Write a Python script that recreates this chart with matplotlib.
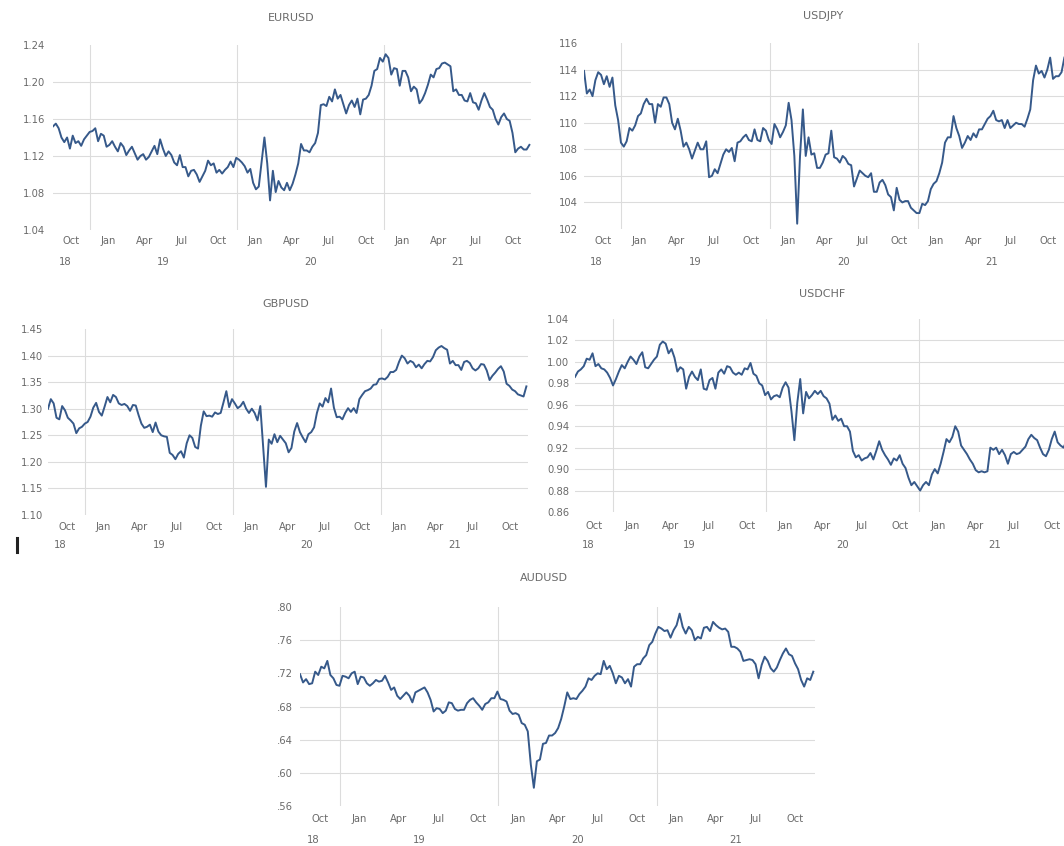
import matplotlib
matplotlib.use('Agg')
import matplotlib.pyplot as plt
import matplotlib.dates as mdates
import pandas as pd
from matplotlib.lines import Line2D

W, H = 1064, 846

# weekly observations (Mondays), Oct 2018 - Dec 2021
dates = pd.date_range('2018-10-01', '2021-12-27', freq='W-MON')

eurusd = [
    1.152, 1.155, 1.150, 1.140, 1.135, 1.140, 1.128, 1.142, 1.134, 1.136, 1.131, 1.138, 1.142, 1.146,
    1.147, 1.150, 1.136, 1.144, 1.142, 1.130, 1.132, 1.136, 1.130, 1.125, 1.134, 1.130,
    1.121, 1.126, 1.130, 1.123, 1.116, 1.120, 1.122, 1.116, 1.119, 1.125, 1.131, 1.122, 1.138,
    1.128, 1.120, 1.125, 1.121, 1.113, 1.110, 1.121, 1.108, 1.108, 1.098, 1.104, 1.105, 1.100, 1.092,
    1.098, 1.104, 1.115, 1.110, 1.112, 1.102, 1.105, 1.101, 1.105, 1.108, 1.114, 1.108, 1.118,
    1.116, 1.113, 1.109, 1.102, 1.106, 1.091, 1.084, 1.087, 1.113, 1.140, 1.112, 1.072, 1.104,
    1.081, 1.093, 1.086, 1.083, 1.091, 1.083, 1.090, 1.100, 1.112, 1.133, 1.126, 1.126, 1.124,
    1.130, 1.134, 1.145, 1.175, 1.176, 1.174, 1.184, 1.179, 1.192, 1.182, 1.186, 1.176, 1.166,
    1.175, 1.180, 1.173, 1.182, 1.165, 1.181, 1.182, 1.186, 1.196, 1.212, 1.214, 1.226, 1.222,
    1.230, 1.226, 1.208, 1.215, 1.214, 1.196, 1.212, 1.212, 1.205, 1.190, 1.195, 1.192, 1.177,
    1.181, 1.188, 1.197, 1.208, 1.205, 1.214, 1.215, 1.220, 1.221, 1.219, 1.217, 1.190, 1.192,
    1.186, 1.186, 1.180, 1.179, 1.188, 1.178, 1.177, 1.170, 1.180, 1.188, 1.181, 1.173, 1.170,
    1.160, 1.154, 1.162, 1.166, 1.160, 1.158, 1.145, 1.124, 1.128, 1.130, 1.127, 1.127, 1.132,
]

usdjpy = [
    113.9, 112.2, 112.5, 112.0, 113.2, 113.8, 113.6, 112.9, 113.5, 112.7, 113.4, 111.3, 110.2, 108.5,
    108.2, 108.6, 109.6, 109.4, 109.8, 110.5, 110.7, 111.4, 111.8, 111.4, 111.4, 110.0,
    111.4, 111.2, 111.9, 111.9, 111.4, 110.0, 109.5, 110.3, 109.4, 108.2, 108.5, 108.0, 107.3,
    107.9, 108.5, 108.0, 108.0, 108.6, 105.9, 106.0, 106.5, 106.2, 106.9, 107.6, 108.0, 107.8, 108.1,
    107.1, 108.5, 108.6, 108.9, 109.1, 108.7, 108.6, 109.5, 108.7, 108.6, 109.6, 109.4, 108.7,
    108.4, 109.9, 109.5, 108.9, 109.3, 109.8, 111.5, 110.2, 107.5, 102.4, 107.5, 111.0, 107.5,
    108.9, 107.6, 107.7, 106.6, 106.6, 107.0, 107.6, 107.7, 109.4, 107.4, 107.3, 107.0, 107.5,
    107.3, 106.9, 106.8, 105.2, 105.8, 106.4, 106.2, 106.0, 105.9, 106.2, 104.8, 104.8, 105.5,
    105.7, 105.3, 104.6, 104.4, 103.4, 105.1, 104.2, 104.0, 104.1, 104.1, 103.6, 103.4, 103.2,
    103.2, 103.9, 103.8, 104.1, 105.0, 105.4, 105.6, 106.2, 107.0, 108.5, 108.9, 108.9, 110.5,
    109.6, 109.0, 108.1, 108.5, 109.0, 108.7, 109.2, 108.9, 109.5, 109.5, 109.9, 110.3, 110.5,
    110.9, 110.2, 110.1, 110.2, 109.6, 110.2, 109.6, 109.8, 110.0, 109.9, 109.9, 109.7, 110.3,
    111.0, 113.2, 114.3, 113.7, 113.9, 113.4, 114.0, 114.9, 113.3, 113.5, 113.5, 113.8, 114.9,
]

gbpusd = [
    1.300, 1.318, 1.310, 1.283, 1.280, 1.305, 1.297, 1.283, 1.278, 1.272, 1.254, 1.263, 1.266, 1.272,
    1.275, 1.285, 1.302, 1.311, 1.294, 1.287, 1.304, 1.322, 1.312, 1.326, 1.322, 1.310,
    1.307, 1.309, 1.305, 1.296, 1.307, 1.306, 1.288, 1.272, 1.264, 1.266, 1.270, 1.256, 1.274,
    1.257, 1.250, 1.248, 1.247, 1.217, 1.213, 1.205, 1.215, 1.220, 1.208, 1.235, 1.250, 1.245, 1.228,
    1.225, 1.268, 1.295, 1.286, 1.287, 1.285, 1.293, 1.290, 1.292, 1.312, 1.333, 1.303, 1.318,
    1.310, 1.301, 1.305, 1.313, 1.300, 1.292, 1.300, 1.292, 1.278, 1.305, 1.228, 1.153, 1.242,
    1.234, 1.252, 1.237, 1.249, 1.242, 1.235, 1.218, 1.226, 1.257, 1.273, 1.256, 1.246, 1.237,
    1.252, 1.256, 1.265, 1.292, 1.310, 1.304, 1.320, 1.312, 1.338, 1.302, 1.284, 1.285, 1.280,
    1.292, 1.301, 1.294, 1.301, 1.292, 1.318, 1.326, 1.333, 1.335, 1.338, 1.345, 1.346, 1.356,
    1.357, 1.355, 1.360, 1.369, 1.369, 1.373, 1.388, 1.400, 1.395, 1.385, 1.390, 1.387, 1.378,
    1.383, 1.376, 1.384, 1.390, 1.389, 1.397, 1.410, 1.415, 1.418, 1.414, 1.411, 1.385, 1.390,
    1.382, 1.382, 1.373, 1.388, 1.390, 1.386, 1.376, 1.372, 1.376, 1.384, 1.383, 1.372, 1.354,
    1.362, 1.368, 1.375, 1.380, 1.370, 1.347, 1.343, 1.336, 1.333, 1.327, 1.325, 1.323, 1.342,
]

usdchf = [
    0.986, 0.991, 0.993, 0.996, 1.003, 1.002, 1.008, 0.996, 0.998, 0.994, 0.993, 0.990, 0.985, 0.978,
    0.984, 0.991, 0.997, 0.994, 1.000, 1.005, 1.002, 0.998, 1.005, 1.009, 0.995, 0.994,
    0.998, 1.002, 1.005, 1.016, 1.019, 1.017, 1.008, 1.012, 1.004, 0.991, 0.995, 0.993, 0.975,
    0.986, 0.991, 0.986, 0.983, 0.993, 0.975, 0.974, 0.983, 0.985, 0.975, 0.990, 0.993, 0.989, 0.996,
    0.995, 0.990, 0.988, 0.990, 0.988, 0.994, 0.993, 0.999, 0.989, 0.987, 0.980, 0.978, 0.969,
    0.972, 0.965, 0.968, 0.969, 0.967, 0.976, 0.981, 0.976, 0.954, 0.927, 0.962, 0.984, 0.952,
    0.972, 0.966, 0.969, 0.973, 0.970, 0.973, 0.968, 0.966, 0.961, 0.946, 0.950, 0.945, 0.947,
    0.940, 0.940, 0.935, 0.917, 0.911, 0.913, 0.908, 0.910, 0.911, 0.915, 0.909, 0.917, 0.926,
    0.918, 0.913, 0.909, 0.904, 0.910, 0.908, 0.913, 0.905, 0.901, 0.892, 0.885, 0.888, 0.884,
    0.880, 0.885, 0.888, 0.885, 0.895, 0.900, 0.896, 0.905, 0.916, 0.928, 0.925, 0.930, 0.940,
    0.935, 0.922, 0.918, 0.914, 0.909, 0.905, 0.899, 0.897, 0.898, 0.897, 0.898, 0.920, 0.918,
    0.920, 0.914, 0.918, 0.913, 0.905, 0.914, 0.916, 0.914, 0.915, 0.918, 0.921, 0.928, 0.932,
    0.929, 0.927, 0.920, 0.914, 0.912, 0.918, 0.928, 0.935, 0.925, 0.922, 0.920, 0.926, 0.920,
]

audusd = [
    0.719, 0.709, 0.713, 0.707, 0.708, 0.722, 0.718, 0.728, 0.726, 0.735, 0.718, 0.714, 0.706, 0.705,
    0.717, 0.716, 0.714, 0.720, 0.722, 0.707, 0.716, 0.715, 0.708, 0.705, 0.708, 0.712,
    0.710, 0.711, 0.717, 0.709, 0.700, 0.703, 0.693, 0.689, 0.693, 0.697, 0.693, 0.685, 0.697,
    0.699, 0.701, 0.703, 0.697, 0.688, 0.674, 0.678, 0.677, 0.672, 0.675, 0.685, 0.684, 0.677, 0.675,
    0.676, 0.676, 0.684, 0.688, 0.690, 0.685, 0.681, 0.676, 0.683, 0.685, 0.690, 0.690, 0.698,
    0.689, 0.688, 0.686, 0.675, 0.671, 0.672, 0.670, 0.660, 0.658, 0.650, 0.610, 0.582, 0.614,
    0.616, 0.635, 0.636, 0.645, 0.645, 0.648, 0.654, 0.665, 0.680, 0.697, 0.689, 0.690, 0.689,
    0.695, 0.699, 0.704, 0.714, 0.712, 0.717, 0.720, 0.719, 0.735, 0.725, 0.729, 0.720, 0.708,
    0.717, 0.715, 0.708, 0.713, 0.704, 0.728, 0.731, 0.731, 0.738, 0.742, 0.754, 0.758, 0.768,
    0.776, 0.774, 0.771, 0.772, 0.763, 0.772, 0.778, 0.792, 0.776, 0.768, 0.776, 0.772, 0.760,
    0.764, 0.762, 0.775, 0.776, 0.771, 0.782, 0.778, 0.775, 0.773, 0.774, 0.770, 0.752, 0.752,
    0.750, 0.746, 0.735, 0.736, 0.737, 0.736, 0.731, 0.714, 0.730, 0.740, 0.735, 0.726, 0.722,
    0.727, 0.736, 0.744, 0.750, 0.743, 0.741, 0.732, 0.725, 0.712, 0.704, 0.714, 0.712, 0.722,
]

quarter_names = ['Oct', 'Jan', 'Apr', 'Jul', 'Oct', 'Jan', 'Apr', 'Jul', 'Oct', 'Jan', 'Apr', 'Jul', 'Oct']
year_labels = ['18', '19', '20', '21']

LINE = '#36598a'
GRID = '#dcdcdc'
TXT = '#6a6a6a'
FONT = 'DejaVu Sans'
TFS = 7.2

fig = plt.figure(figsize=(W / 100, H / 100), dpi=100)
fig.patch.set_facecolor('white')

x0 = mdates.date2num(pd.Timestamp('2018-10-01'))
x1 = mdates.date2num(pd.Timestamp('2021-12-31'))
qstarts = pd.date_range('2018-10-01', '2022-01-01', freq='QS')
qmids = [mdates.date2num(qstarts[i]) + (mdates.date2num(qstarts[i + 1]) - mdates.date2num(qstarts[i])) / 2
         for i in range(len(qstarts) - 1)]
ymids = [mdates.date2num(pd.Timestamp('2018-11-01')),
         mdates.date2num(pd.Timestamp('2019-07-02')),
         mdates.date2num(pd.Timestamp('2020-07-02')),
         mdates.date2num(pd.Timestamp('2021-07-02'))]
ybounds = [mdates.date2num(pd.Timestamp(f'{y}-01-01')) for y in (2019, 2020, 2021)]

panels = [
    # name, values, ylim, ticks, fmt, box(l,t,r,b), title(x,y), month_off, year_off, ypad
    ('EURUSD', eurusd, (1.04, 1.24), [1.04, 1.08, 1.12, 1.16, 1.20, 1.24], '{:.2f}',
     (53, 45, 531, 230), (291, 18), 11, 32, 8),
    ('USDJPY', usdjpy, (102, 116), [102, 104, 106, 108, 110, 112, 114, 116], '{:.0f}',
     (584, 43, 1066, 229), (823, 16), 12, 33, 6),
    ('GBPUSD', gbpusd, (1.10, 1.45), [1.10, 1.15, 1.20, 1.25, 1.30, 1.35, 1.40, 1.45], '{:.2f}',
     (48, 329, 528, 515), (286, 304), 12, 30, 5),
    ('USDCHF', usdchf, (0.86, 1.04), [0.86, 0.88, 0.90, 0.92, 0.94, 0.96, 0.98, 1.00, 1.02, 1.04], '{:.2f}',
     (575, 319, 1071, 512), (822, 294), 14, 33, 6),
    ('AUDUSD', audusd, (0.56, 0.80), [0.56, 0.60, 0.64, 0.68, 0.72, 0.76, 0.80], 'dot',
     (300, 607, 815, 806), (544, 578), 13, 34, 7),
]

for name, vals, ylim, ticks, fmt, box, tpos, moff, yoff, ypad in panels:
    l, t, r, b = box
    ax = fig.add_axes([l / W, 1 - b / H, (r - l) / W, (b - t) / H])
    ax.set_facecolor('none')
    for s in ax.spines.values():
        s.set_visible(False)
    ax.set_xlim(x0, x1)
    ax.set_ylim(*ylim)
    ax.set_xticks([])
    ax.set_yticks(ticks)
    if fmt == 'dot':
        labels = ['.{:02d}'.format(int(round(v * 100))) for v in ticks]
    else:
        labels = [fmt.format(v) for v in ticks]
    ax.set_yticklabels(labels, fontsize=TFS, color=TXT, family=FONT)
    ax.tick_params(axis='y', length=0, pad=ypad * 0.72)
    for v in ticks[1:-1]:
        ax.axhline(v, color=GRID, lw=0.8, zorder=0)
    for xb in ybounds:
        ax.axvline(xb, color=GRID, lw=0.8, zorder=0)
    ax.plot(mdates.date2num(dates), vals, color=LINE, lw=1.4, zorder=3)
    for qm, qn in zip(qmids, quarter_names):
        ax.annotate(qn, xy=(qm, 0), xycoords=('data', 'axes fraction'),
                    xytext=(0, -moff * 0.72), textcoords='offset points',
                    ha='center', va='center', fontsize=TFS, color=TXT, family=FONT,
                    annotation_clip=False)
    for ym, yl in zip(ymids, year_labels):
        ax.annotate(yl, xy=(ym, 0), xycoords=('data', 'axes fraction'),
                    xytext=(0, -yoff * 0.72), textcoords='offset points',
                    ha='center', va='center', fontsize=TFS, color=TXT, family=FONT,
                    annotation_clip=False)
    fig.text(tpos[0] / W, 1 - tpos[1] / H, name, ha='center', va='center',
             fontsize=8, color=TXT, family=FONT)

# small dark mark at the lower left of the GBPUSD panel
fig.add_artist(Line2D([17 / W, 17 / W], [1 - 538 / H, 1 - 552 / H], color='#222222', lw=2.2))

fig.savefig('out.png', dpi=100, facecolor='white')
